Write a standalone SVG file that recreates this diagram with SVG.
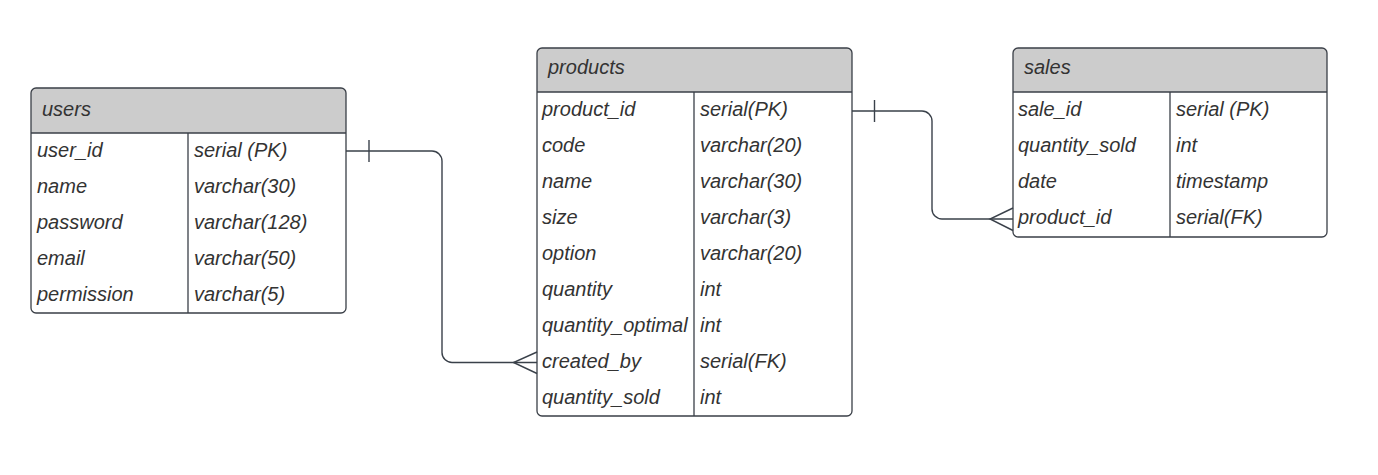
<svg xmlns="http://www.w3.org/2000/svg" width="1378" height="475" viewBox="0 0 1378 475">
<style>
.box{fill:none;stroke:#3a3f47;stroke-width:1.3}
.hdr{fill:#cccccc}
.ln{stroke:#3a3f47;stroke-width:1.3;fill:none}
.t{font-family:"Liberation Sans",Arial,sans-serif;font-size:20px;font-style:italic;fill:#333333}
.conn{stroke:#3a414a;stroke-width:1.4;fill:none}
</style>
<rect width="1378" height="475" fill="#ffffff"/>
<g id="users">
<path class="hdr" d="M31,133 V93 a5,5 0 0 1 5,-5 H341 a5,5 0 0 1 5,5 V133 Z"/>
<rect class="box" x="31" y="88" width="315" height="225" rx="5"/>
<line class="ln" x1="31" y1="133" x2="346" y2="133"/>
<line class="ln" x1="188" y1="133" x2="188" y2="313"/>
<text class="t" x="42" y="115.5">users</text>
<text class="t" x="37" y="156.5">user_id</text><text class="t" x="194" y="156.5">serial (PK)</text>
<text class="t" x="37" y="192.5">name</text><text class="t" x="194" y="192.5">varchar(30)</text>
<text class="t" x="37" y="228.5">password</text><text class="t" x="194" y="228.5">varchar(128)</text>
<text class="t" x="37" y="264.5">email</text><text class="t" x="194" y="264.5">varchar(50)</text>
<text class="t" x="37" y="300.5">permission</text><text class="t" x="194" y="300.5">varchar(5)</text>
</g>
<g id="products">
<path class="hdr" d="M537,92 V53 a5,5 0 0 1 5,-5 H847 a5,5 0 0 1 5,5 V92 Z"/>
<rect class="box" x="537" y="48" width="315" height="368" rx="5"/>
<line class="ln" x1="537" y1="92" x2="852" y2="92"/>
<line class="ln" x1="694" y1="92" x2="694" y2="416"/>
<text class="t" x="548" y="73.5">products</text>
<text class="t" x="542" y="115.5">product_id</text><text class="t" x="700" y="115.5">serial(PK)</text>
<text class="t" x="542" y="151.5">code</text><text class="t" x="700" y="151.5">varchar(20)</text>
<text class="t" x="542" y="187.5">name</text><text class="t" x="700" y="187.5">varchar(30)</text>
<text class="t" x="542" y="223.5">size</text><text class="t" x="700" y="223.5">varchar(3)</text>
<text class="t" x="542" y="259.5">option</text><text class="t" x="700" y="259.5">varchar(20)</text>
<text class="t" x="542" y="295.5">quantity</text><text class="t" x="700" y="295.5">int</text>
<text class="t" x="542" y="331.5">quantity_optimal</text><text class="t" x="700" y="331.5">int</text>
<text class="t" x="542" y="367.5">created_by</text><text class="t" x="700" y="367.5">serial(FK)</text>
<text class="t" x="542" y="403.5">quantity_sold</text><text class="t" x="700" y="403.5">int</text>
</g>
<g id="sales">
<path class="hdr" d="M1013,92 V53 a5,5 0 0 1 5,-5 H1322 a5,5 0 0 1 5,5 V92 Z"/>
<rect class="box" x="1013" y="48" width="314" height="189" rx="5"/>
<line class="ln" x1="1013" y1="92" x2="1327" y2="92"/>
<line class="ln" x1="1170" y1="92" x2="1170" y2="237"/>
<text class="t" x="1024" y="73.5">sales</text>
<text class="t" x="1018" y="115.5">sale_id</text><text class="t" x="1176" y="115.5">serial (PK)</text>
<text class="t" x="1018" y="151.5">quantity_sold</text><text class="t" x="1176" y="151.5">int</text>
<text class="t" x="1018" y="187.5">date</text><text class="t" x="1176" y="187.5">timestamp</text>
<text class="t" x="1018" y="223.5">product_id</text><text class="t" x="1176" y="223.5">serial(FK)</text>
</g>
<g id="connectors">
<path class="conn" d="M346,151 H432 a10,10 0 0 1 10,10 V352.5 a10,10 0 0 0 10,10 H537"/>
<line class="conn" x1="369" y1="140" x2="369" y2="162"/>
<path class="conn" d="M537,352 L513.5,362.5 L537,373.5"/>
<path class="conn" d="M852,111 H922 a10,10 0 0 1 10,10 V209 a10,10 0 0 0 10,10 H1013"/>
<line class="conn" x1="874.5" y1="100" x2="874.5" y2="122"/>
<path class="conn" d="M1013,208 L990,219 L1013,230.5"/>
</g>
</svg>
